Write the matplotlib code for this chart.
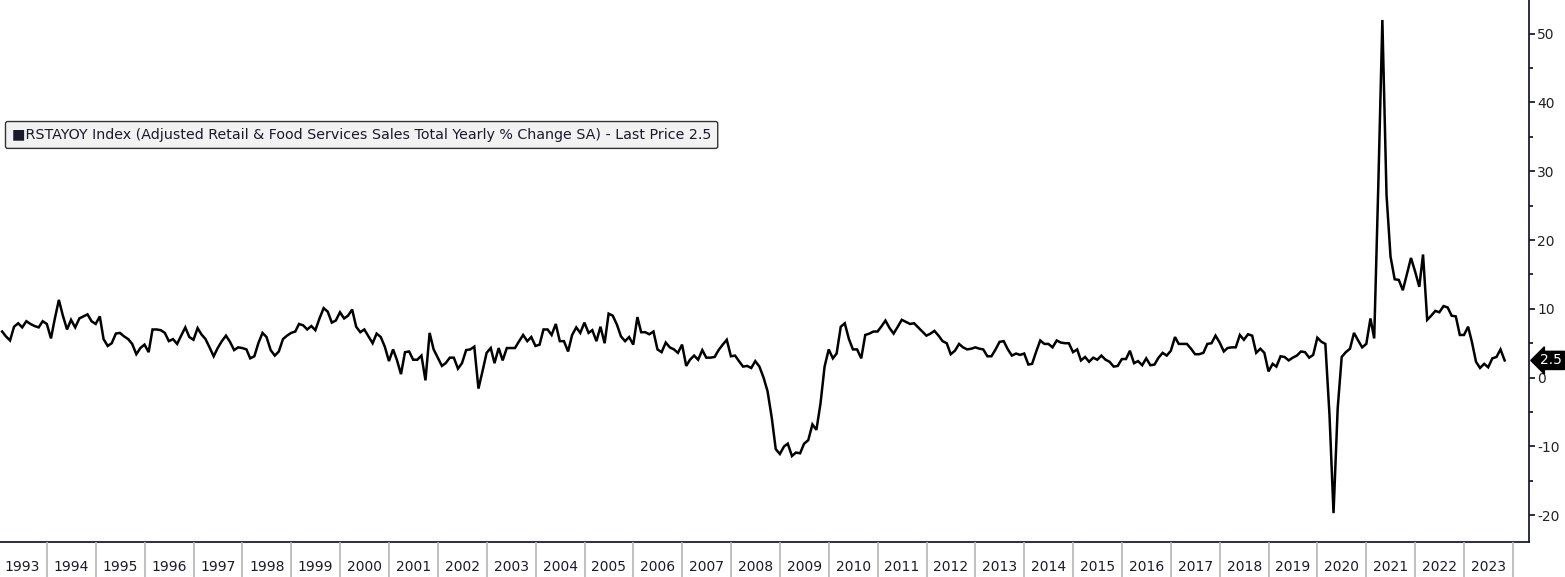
import numpy as np
import pandas as pd
import matplotlib
matplotlib.use('Agg')
import matplotlib.pyplot as plt
import matplotlib.transforms as mtransforms

# monthly yearly % change (month-end points)
first_month = '1993-01-31'
y1993 = [6.7, 6.0, 5.4, 7.4, 7.9, 7.3, 8.2, 7.8, 7.5, 7.3, 8.2, 7.8]
y1994 = [5.7, 8.5, 11.3, 9.0, 7.0, 8.4, 7.3, 8.6, 8.9, 9.2, 8.2, 7.8]
y1995 = [8.9, 5.6, 4.6, 5.0, 6.4, 6.5, 6.0, 5.6, 4.9, 3.4, 4.3, 4.8]
y1996 = [3.7, 7.0, 7.0, 6.9, 6.5, 5.3, 5.6, 4.9, 6.1, 7.3, 5.9, 5.5]
y1997 = [7.2, 6.3, 5.6, 4.4, 3.1, 4.3, 5.3, 6.1, 5.2, 4.0, 4.4, 4.3]
y1998 = [4.1, 2.8, 3.1, 5.0, 6.5, 5.9, 4.0, 3.2, 3.8, 5.6, 6.1, 6.5]
y1999 = [6.7, 7.8, 7.6, 7.0, 7.5, 6.9, 8.6, 10.1, 9.6, 8.0, 8.3, 9.5]
y2000 = [8.6, 9.0, 9.9, 7.4, 6.6, 7.0, 6.0, 5.0, 6.4, 5.9, 4.5, 2.4]
y2001 = [4.1, 2.6, 0.5, 3.7, 3.8, 2.6, 2.6, 3.2, -0.4, 6.5, 4.1, 2.9]
y2002 = [1.7, 2.1, 2.9, 2.9, 1.3, 2.1, 4.0, 4.1, 4.5, -1.6, 0.9, 3.6]
y2003 = [4.3, 2.1, 4.3, 2.5, 4.3, 4.3, 4.3, 5.3, 6.2, 5.3, 5.9, 4.6]
y2004 = [4.8, 7.0, 7.0, 6.2, 7.8, 5.3, 5.3, 3.8, 6.2, 7.3, 6.5, 8.0]
y2005 = [6.5, 6.9, 5.3, 7.4, 5.0, 9.3, 9.0, 7.7, 6.0, 5.3, 5.9, 4.8]
y2006 = [8.8, 6.6, 6.6, 6.3, 6.7, 4.1, 3.7, 5.1, 4.4, 4.1, 3.6, 4.8]
y2007 = [1.7, 2.6, 3.2, 2.6, 4.0, 2.9, 2.9, 3.0, 4.0, 4.8, 5.5, 3.1]
y2008 = [3.2, 2.4, 1.6, 1.7, 1.4, 2.4, 1.6, 0.0, -2.0, -5.8, -10.4, -11.1]
y2009 = [-10.0, -9.6, -11.4, -10.9, -11.0, -9.6, -9.1, -6.8, -7.6, -3.7, 1.6, 4.1]
y2010 = [2.8, 3.5, 7.4, 7.9, 5.6, 4.1, 4.1, 2.8, 6.2, 6.4, 6.7, 6.7]
y2011 = [7.5, 8.3, 7.2, 6.4, 7.4, 8.4, 8.1, 7.8, 7.9, 7.3, 6.7, 6.1]
y2012 = [6.4, 6.8, 6.1, 5.3, 5.0, 3.4, 3.9, 4.9, 4.4, 4.1, 4.2, 4.4]
y2013 = [4.2, 4.1, 3.1, 3.1, 4.1, 5.2, 5.3, 4.1, 3.2, 3.5, 3.3, 3.5]
y2014 = [1.9, 2.0, 3.8, 5.4, 4.9, 4.9, 4.4, 5.4, 5.1, 5.0, 5.0, 3.7]
y2015 = [4.1, 2.5, 3.0, 2.3, 2.9, 2.6, 3.2, 2.6, 2.3, 1.6, 1.7, 2.7]
y2016 = [2.7, 3.9, 2.1, 2.4, 1.8, 2.8, 1.8, 1.9, 2.9, 3.6, 3.2, 3.9]
y2017 = [5.9, 4.9, 4.9, 4.9, 4.2, 3.4, 3.4, 3.6, 4.9, 5.0, 6.1, 5.1]
y2018 = [3.8, 4.3, 4.4, 4.4, 6.2, 5.5, 6.3, 6.1, 3.6, 4.2, 3.6, 0.9]
y2019 = [2.0, 1.6, 3.1, 3.0, 2.5, 2.9, 3.2, 3.8, 3.7, 2.9, 3.3, 5.8]
y2020 = [5.2, 4.9, -5.5, -19.7, -4.5, 3.0, 3.7, 4.2, 6.5, 5.4, 4.4, 4.9]
y2021 = [8.6, 5.7, 28.2, 52.0, 26.6, 17.6, 14.3, 14.2, 12.7, 15.1, 17.4, 15.4]
y2022 = [13.2, 17.9, 8.4, 9.0, 9.7, 9.5, 10.4, 10.2, 9.0, 8.9, 6.2, 6.2]
y2023 = [7.4, 5.2, 2.3, 1.4, 2.0, 1.5, 2.8, 3.0, 4.1, 2.5]

years = list(range(1993, 2024))
yticks = [-20, -10, 0, 10, 20, 30, 40, 50]
legend_text = ('\u25a0RSTAYOY Index (Adjusted Retail & Food Services Sales Total '
               'Yearly % Change SA) - Last Price 2.5')
last_price = 2.5

values = (y1993 + y1994 + y1995 + y1996 + y1997 + y1998 + y1999 + y2000 + y2001
          + y2002 + y2003 + y2004 + y2005 + y2006 + y2007 + y2008 + y2009 + y2010
          + y2011 + y2012 + y2013 + y2014 + y2015 + y2016 + y2017 + y2018 + y2019
          + y2020 + y2021 + y2022 + y2023)
dates = pd.date_range(first_month, periods=len(values), freq='ME')

navy = '#1c1c3a'
W, H = 1565, 577
fig = plt.figure(figsize=(W / 100, H / 100), dpi=100)
ax_right = 1529 / W
ax_bottom = 35 / H
ax = fig.add_axes([0, ax_bottom, ax_right, 1 - ax_bottom])

ax.plot(dates, values, color='black', lw=1.8, solid_joinstyle='miter')

xmin = pd.Timestamp('1993-01-15')
xmax = pd.Timestamp('2024-04-30')
ax.set_xlim(xmin, xmax)
ax.set_ylim(-23.9, 54.9)

ax.yaxis.tick_right()
ax.set_yticks(yticks)
ax.set_yticklabels([str(t) for t in yticks])
ax.set_yticks([t + 5 for t in yticks[:-1]], minor=True)
ax.tick_params(axis='y', which='major', direction='out', length=4, width=1.3,
               colors=navy, labelcolor='#222222', labelsize=10, pad=2)
ax.tick_params(axis='y', which='minor', direction='out', length=3, width=1.3,
               colors=navy)
ax.set_xticks([])
for s in ['top', 'left']:
    ax.spines[s].set_visible(False)
ax.spines['right'].set_color(navy)
ax.spines['right'].set_linewidth(1.3)
ax.spines['bottom'].set_color(navy)
ax.spines['bottom'].set_linewidth(1.3)

# legend box
ax.text(0.0078, 0.751, legend_text, transform=ax.transAxes, fontsize=10.3,
        color='#1a1a2a', va='center', ha='left',
        bbox=dict(boxstyle='round,pad=0.45,rounding_size=0.15', fc='#f2f2f2',
                  ec='#333333', lw=1.0))

# last price tag on the right axis
trans = mtransforms.blended_transform_factory(ax.transAxes, ax.transData)
ax.text(1.0075, last_price, f'{last_price}', transform=trans, fontsize=10,
        color='white', va='center', ha='left', clip_on=False,
        bbox=dict(boxstyle='larrow,pad=0.15', fc='black', ec='black'))

# year band under the chart
band = fig.add_axes([0, 0, ax_right, ax_bottom])
band.set_xlim(xmin, xmax)
band.set_ylim(0, 1)
band.axis('off')
for yr in years:
    band.axvline(pd.Timestamp(f'{yr + 1}-01-01'), color='#b5b5b5', lw=1.2)
    band.text(pd.Timestamp(f'{yr}-07-02'), 0.28, str(yr), ha='center',
              va='center', fontsize=10, color='#1a1a2a')

fig.savefig('out.png', dpi=100)
